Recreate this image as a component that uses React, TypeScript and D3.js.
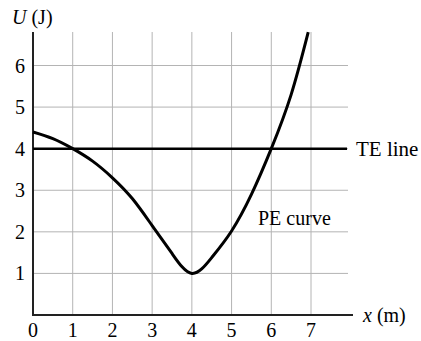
import React, { useEffect, useRef } from "react"
import * as d3 from "d3"

const xTicks = [0, 1, 2, 3, 4, 5, 6, 7]
const yTicks = [1, 2, 3, 4, 5, 6]
const peX = [0, 0.5, 1, 1.5, 2, 2.5, 3, 3.5, 4, 4.5, 5, 5.5, 6, 6.5, 6.93]
const peU = [4.4, 4.24, 4.0, 3.7, 3.3, 2.8, 2.15, 1.48, 1.0, 1.38, 2.02, 2.9, 4.0, 5.3, 6.8]
const teU = 4

const App = () => {
  const ref = useRef<SVGSVGElement | null>(null)

  useEffect(() => {
    const svg = d3.select(ref.current)
    svg.selectAll("*").remove()
    const font = "'Liberation Serif', 'Times New Roman', serif"
    const fs = 20

    // scales fitted to the picture
    const x = d3.scaleLinear().domain([0, 7]).range([33, 311])
    const y = d3.scaleLinear().domain([0, 6]).range([315, 65.5])

    // grid
    const grid = svg.append("g").attr("stroke", "#b4b4b4").attr("stroke-width", 1)
    grid
      .selectAll("line.v")
      .data(xTicks.slice(1))
      .join("line")
      .attr("x1", (d) => x(d))
      .attr("x2", (d) => x(d))
      .attr("y1", y(0))
      .attr("y2", 32)
    grid
      .selectAll("line.h")
      .data(yTicks)
      .join("line")
      .attr("x1", x(0))
      .attr("x2", 348)
      .attr("y1", (d) => y(d))
      .attr("y2", (d) => y(d))

    // axes
    svg
      .append("line")
      .attr("x1", x(0))
      .attr("x2", x(0))
      .attr("y1", y(0))
      .attr("y2", 32)
      .attr("stroke", "#222")
      .attr("stroke-width", 2)
    svg
      .append("line")
      .attr("x1", x(0) - 1)
      .attr("x2", 353)
      .attr("y1", y(0))
      .attr("y2", y(0))
      .attr("stroke", "#222")
      .attr("stroke-width", 2)

    // tick labels
    svg
      .append("g")
      .selectAll("text")
      .data(xTicks)
      .join("text")
      .attr("x", (d) => x(d))
      .attr("y", 337)
      .attr("text-anchor", "middle")
      .attr("font-family", font)
      .attr("font-size", fs)
      .text((d) => d)
    svg
      .append("g")
      .selectAll("text")
      .data(yTicks)
      .join("text")
      .attr("x", 25)
      .attr("y", (d) => y(d) + 7)
      .attr("text-anchor", "end")
      .attr("font-family", font)
      .attr("font-size", fs)
      .text((d) => d)

    // axis titles
    const ut = svg
      .append("text")
      .attr("x", 12)
      .attr("y", 24)
      .attr("font-family", font)
      .attr("font-size", fs)
    ut.append("tspan").attr("font-style", "italic").text("U")
    ut.append("tspan").text(" (J)")
    const xt = svg
      .append("text")
      .attr("x", 363)
      .attr("y", 322)
      .attr("font-family", font)
      .attr("font-size", fs)
    xt.append("tspan").attr("font-style", "italic").text("x")
    xt.append("tspan").text(" (m)")

    // TE line
    svg
      .append("line")
      .attr("x1", x(0))
      .attr("x2", 347)
      .attr("y1", y(teU))
      .attr("y2", y(teU))
      .attr("stroke", "#000")
      .attr("stroke-width", 2.5)
    svg
      .append("text")
      .attr("x", 356)
      .attr("y", y(teU) + 7)
      .attr("font-family", font)
      .attr("font-size", 21)
      .text("TE line")

    // PE curve
    const pts: [number, number][] = peX.map((v, i) => [v, peU[i]])
    const line = d3
      .line<[number, number]>()
      .x((d) => x(d[0]))
      .y((d) => y(d[1]))
      .curve(d3.curveNatural)
    svg
      .append("path")
      .datum(pts)
      .attr("d", line)
      .attr("fill", "none")
      .attr("stroke", "#000")
      .attr("stroke-width", 3)
    svg
      .append("text")
      .attr("x", 258)
      .attr("y", 225)
      .attr("font-family", font)
      .attr("font-size", fs)
      .text("PE curve")
  }, [])

  return (
    <svg
      ref={ref}
      width={421}
      height={341}
      style={{ position: "absolute", left: 0, top: 0, background: "#fff" }}
    ></svg>
  )
}

export default App
